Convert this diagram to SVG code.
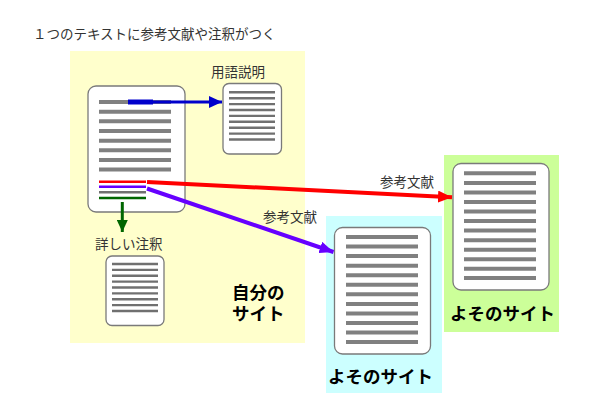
<svg xmlns="http://www.w3.org/2000/svg" width="600" height="415" viewBox="0 0 600 415">
<style>
.doc{fill:#fff;stroke:#7a7a7a;stroke-width:1.3}
.ln{stroke:#808080;stroke-width:4}
.sln{stroke:#707070;stroke-width:2.4}
.t{font-family:"Noto Sans CJK JP","Noto Sans",sans-serif;font-size:13.5px;fill:#333}
.b{font-family:"Liberation Sans","Noto Sans CJK JP",sans-serif;font-size:17.5px;font-weight:bold;fill:#000}
</style>
<defs>
<marker id="hBlue" markerUnits="userSpaceOnUse" markerWidth="13" markerHeight="12" refX="13" refY="6" orient="auto"><path d="M0,0 L13,6 L0,12 z" fill="#0000cc"/></marker>
<marker id="hRed" markerUnits="userSpaceOnUse" markerWidth="14" markerHeight="12" refX="14" refY="6" orient="auto"><path d="M0,0 L14,6 L0,12 z" fill="#ff0000"/></marker>
<marker id="hPur" markerUnits="userSpaceOnUse" markerWidth="14" markerHeight="12" refX="14" refY="6" orient="auto"><path d="M0,0 L14,6 L0,12 z" fill="#6600ff"/></marker>
<marker id="hGrn" markerUnits="userSpaceOnUse" markerWidth="12" markerHeight="11" refX="12" refY="5.5" orient="auto"><path d="M0,0 L12,5.5 L0,11 z" fill="#006600"/></marker>
</defs>
<rect width="600" height="415" fill="#fff"/>
<text class="t" x="33" y="39">１つのテキストに参考文献や注釈がつく</text>

<g id="own-site">
<rect x="70" y="51" width="235" height="292" fill="#ffffcc"/>
<text class="b" x="232" y="299">自分の<tspan x="232" dy="21">サイト</tspan></text>
</g>

<g id="main-doc">
<rect class="doc" x="88" y="86" width="97" height="126" rx="8"/>
<g class="ln">
<line x1="99" y1="102" x2="171" y2="102"/>
<line x1="99" y1="111.7" x2="171" y2="111.7"/>
<line x1="99" y1="121.3" x2="171" y2="121.3"/>
<line x1="99" y1="131" x2="171" y2="131"/>
<line x1="99" y1="140.7" x2="171" y2="140.7"/>
<line x1="99" y1="150.3" x2="171" y2="150.3"/>
<line x1="99" y1="160" x2="171" y2="160"/>
<line x1="99" y1="169.5" x2="171" y2="169.5"/>
</g>
<line x1="128" y1="102" x2="153" y2="102" stroke="#0000cc" stroke-width="5"/>
<line x1="99" y1="181.7" x2="146" y2="181.7" stroke="#ff0000" stroke-width="2.6"/>
<line x1="99" y1="186.8" x2="146" y2="186.8" stroke="#6600ff" stroke-width="2.6"/>
<line x1="99" y1="192.3" x2="146" y2="192.3" stroke="#707070" stroke-width="2.6"/>
<line x1="99" y1="198" x2="146" y2="198" stroke="#006600" stroke-width="2.6"/>
</g>

<g id="glossary">
<text class="t" x="211" y="77">用語説明</text>
<rect class="doc" x="223" y="83.5" width="58.5" height="70.5" rx="6"/>
<g class="sln">
<line x1="229" y1="92.3" x2="275" y2="92.3"/>
<line x1="229" y1="98.2" x2="275" y2="98.2"/>
<line x1="229" y1="104.1" x2="275" y2="104.1"/>
<line x1="229" y1="110" x2="275" y2="110"/>
<line x1="229" y1="115.9" x2="275" y2="115.9"/>
<line x1="229" y1="121.8" x2="275" y2="121.8"/>
<line x1="229" y1="127.7" x2="275" y2="127.7"/>
<line x1="229" y1="133.6" x2="275" y2="133.6"/>
<line x1="229" y1="139.5" x2="275" y2="139.5"/>
</g>
</g>

<g id="footnote">
<text class="t" x="95" y="249">詳しい注釈</text>
<rect class="doc" x="106" y="256" width="58" height="69.5" rx="6"/>
<g class="sln">
<line x1="112" y1="264" x2="158" y2="264"/>
<line x1="112" y1="269.9" x2="158" y2="269.9"/>
<line x1="112" y1="275.8" x2="158" y2="275.8"/>
<line x1="112" y1="281.6" x2="158" y2="281.6"/>
<line x1="112" y1="287.5" x2="158" y2="287.5"/>
<line x1="112" y1="293.4" x2="158" y2="293.4"/>
<line x1="112" y1="299.2" x2="158" y2="299.2"/>
<line x1="112" y1="305.1" x2="158" y2="305.1"/>
<line x1="112" y1="311" x2="158" y2="311"/>
</g>
</g>

<g id="other-site-1">
<rect x="326" y="216" width="116" height="177" fill="#ccffff"/>
<rect class="doc" x="334.5" y="227.5" width="96" height="126.5" rx="8"/>
<g class="ln">
<line x1="346" y1="237" x2="418" y2="237"/>
<line x1="346" y1="246.6" x2="418" y2="246.6"/>
<line x1="346" y1="256.1" x2="418" y2="256.1"/>
<line x1="346" y1="265.7" x2="418" y2="265.7"/>
<line x1="346" y1="275.2" x2="418" y2="275.2"/>
<line x1="346" y1="284.8" x2="418" y2="284.8"/>
<line x1="346" y1="294.3" x2="418" y2="294.3"/>
<line x1="346" y1="303.9" x2="418" y2="303.9"/>
<line x1="346" y1="313.4" x2="418" y2="313.4"/>
<line x1="346" y1="323" x2="418" y2="323"/>
<line x1="346" y1="332.5" x2="418" y2="332.5"/>
<line x1="346" y1="342" x2="418" y2="342"/>
</g>
<text class="b" x="328" y="383">よそのサイト</text>
</g>

<g id="other-site-2">
<rect x="444" y="155" width="115" height="177" fill="#ccff99"/>
<rect class="doc" x="453" y="163.5" width="96" height="126.5" rx="8"/>
<g class="ln">
<line x1="464" y1="173.3" x2="536" y2="173.3"/>
<line x1="464" y1="182.9" x2="536" y2="182.9"/>
<line x1="464" y1="192.4" x2="536" y2="192.4"/>
<line x1="464" y1="202" x2="536" y2="202"/>
<line x1="464" y1="211.5" x2="536" y2="211.5"/>
<line x1="464" y1="221.1" x2="536" y2="221.1"/>
<line x1="464" y1="230.6" x2="536" y2="230.6"/>
<line x1="464" y1="240.2" x2="536" y2="240.2"/>
<line x1="464" y1="249.7" x2="536" y2="249.7"/>
<line x1="464" y1="259.2" x2="536" y2="259.2"/>
<line x1="464" y1="268.7" x2="536" y2="268.7"/>
<line x1="464" y1="278" x2="536" y2="278"/>
</g>
<text class="b" x="450" y="320">よそのサイト</text>
</g>

<g id="connectors">
<line x1="153" y1="102" x2="222" y2="102" stroke="#0000cc" stroke-width="3" marker-end="url(#hBlue)"/>
<line x1="122.3" y1="202" x2="122.3" y2="232" stroke="#006600" stroke-width="3" marker-end="url(#hGrn)"/>
<line x1="147" y1="182" x2="452" y2="197.3" stroke="#ff0000" stroke-width="4" marker-end="url(#hRed)"/>
<line x1="147" y1="188.5" x2="333.5" y2="252" stroke="#6600ff" stroke-width="4" marker-end="url(#hPur)"/>
<text class="t" x="380" y="187">参考文献</text>
<text class="t" x="263" y="222">参考文献</text>
</g>
</svg>
